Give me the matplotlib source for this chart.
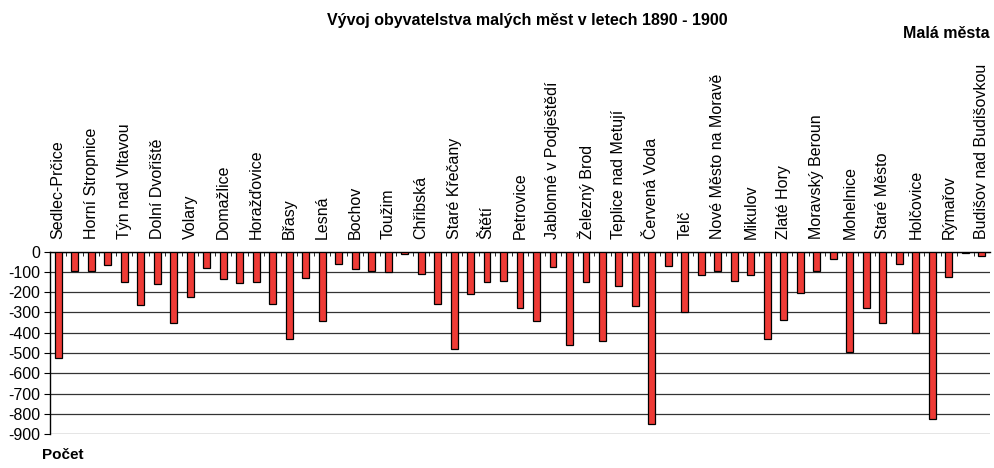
import matplotlib
matplotlib.use("Agg")
import matplotlib.pyplot as plt
from matplotlib.ticker import FixedLocator

plt.rcParams['font.family'] = ['Liberation Sans', 'DejaVu Sans']

# every other town is labelled on the axis
labels = ["Sedlec-Prčice", "Horní Stropnice", "Týn nad Vltavou", "Dolní Dvořiště",
          "Volary", "Domažlice", "Horažďovice", "Břasy", "Lesná", "Bochov", "Toužim",
          "Chřibská", "Staré Křečany", "Štětí", "Petrovice", "Jablonné v Podještědí",
          "Železný Brod", "Teplice nad Metují", "Červená Voda", "Telč",
          "Nové Město na Moravě", "Mikulov", "Zlaté Hory", "Moravský Beroun",
          "Mohelnice", "Staré Město", "Holčovice", "Rýmařov", "Budišov nad Budišovkou"]

values = [-525, -95, -95, -65, -150, -265, -160, -352, -223, -82,
          -136, -152, -150, -259, -431, -131, -344, -59, -87, -95,
          -102, -12, -110, -259, -480, -208, -151, -143, -279, -344,
          -74, -459, -151, -439, -167, -266, -852, -70, -300, -115,
          -95, -143, -115, -431, -339, -202, -95, -36, -495, -279,
          -352, -61, -402, -826, -123, -8, -21]

yticks = list(range(0, -1000, -100))

fig = plt.figure(figsize=(9.94, 4.68), dpi=100)
ax = fig.add_axes([0.0503, 0.0726, 0.9457, 0.3895])

x = list(range(len(values)))
ax.bar(x, values, width=0.42, color='#ee3b36', edgecolor='black', linewidth=0.9, zorder=3)

ax.set_ylim(-900, 0)
ax.set_xlim(-0.5, len(values) - 0.5)
ax.set_yticks(yticks)
ax.set_yticklabels([str(v) for v in yticks], fontsize=11.5)
ax.yaxis.grid(True, color='#333333', linewidth=0.9, zorder=0)

ax.xaxis.tick_top()
ax.set_xticks(x[::2])
ax.set_xticklabels(labels, rotation=90, fontsize=11.5)
ax.tick_params(axis='x', which='major', length=0, pad=9)
ax.xaxis.set_minor_locator(FixedLocator([i + 0.5 for i in range(len(values) - 1)]))
ax.tick_params(axis='x', which='minor', direction='in', length=3, top=True, bottom=False)
ax.tick_params(axis='y', length=4, width=0.8, pad=3)

for s in ['right', 'bottom']:
    ax.spines[s].set_visible(False)
ax.spines['top'].set_linewidth(1.0)
ax.spines['left'].set_linewidth(1.0)

fig.text(0.53, 0.957, "Vývoj obyvatelstva malých měst v letech 1890 - 1900",
         ha='center', va='center', fontsize=11.5, fontweight='bold')
fig.text(0.996, 0.928, "Malá města", ha='right', va='center', fontsize=11.5, fontweight='bold')
fig.text(0.042, 0.028, "Počet", ha='left', va='center', fontsize=11, fontweight='bold')

fig.savefig("out.png", dpi=100)
